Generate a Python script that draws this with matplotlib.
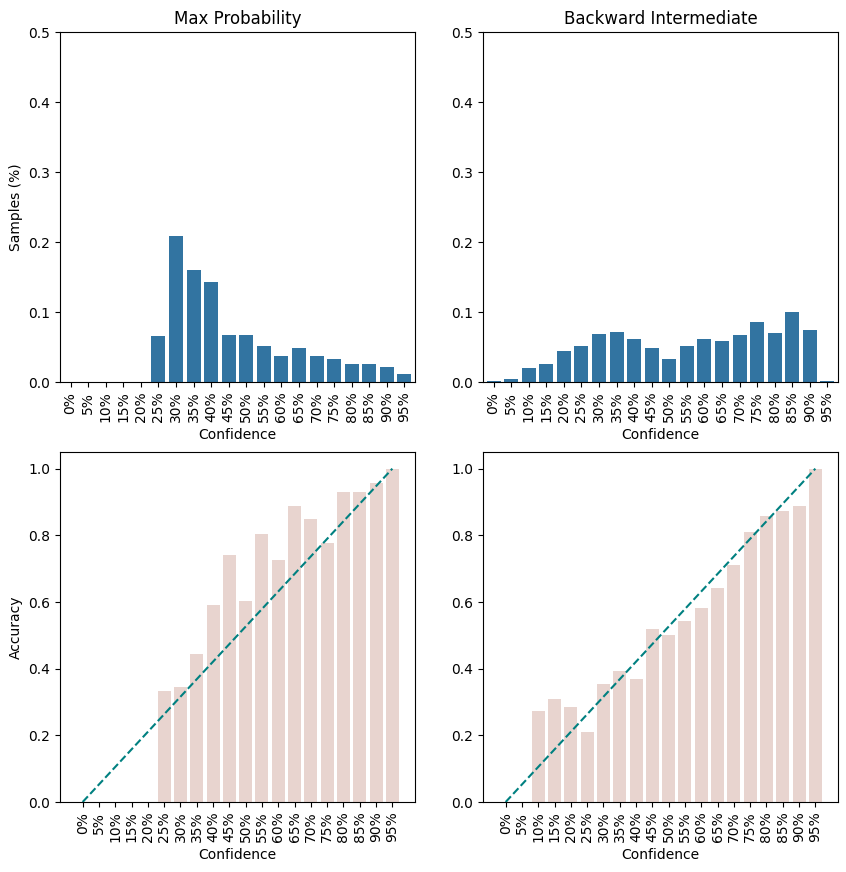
import numpy as np
import matplotlib
matplotlib.use("Agg")
import matplotlib.pyplot as plt

labels = [f"{p}%" for p in range(0, 100, 5)]

maxprob_samples = [0, 0, 0, 0, 0, 0.066, 0.209, 0.160, 0.143, 0.067, 0.067, 0.051,
                   0.037, 0.049, 0.037, 0.033, 0.026, 0.026, 0.021, 0.011]
backward_samples = [0.0014, 0.0043, 0.020, 0.026, 0.044, 0.051, 0.069, 0.071, 0.061,
                    0.049, 0.033, 0.051, 0.061, 0.059, 0.067, 0.086, 0.070, 0.100,
                    0.074, 0.0014]

maxprob_acc = [0, 0, 0, 0, 0, 0.333, 0.345, 0.444, 0.591, 0.741, 0.603, 0.805,
               0.727, 0.889, 0.850, 0.778, 0.931, 0.931, 0.958, 1.0]
backward_acc = [0, 0, 0.273, 0.309, 0.285, 0.209, 0.354, 0.393, 0.369, 0.519, 0.501,
                0.543, 0.582, 0.642, 0.711, 0.811, 0.859, 0.874, 0.889, 1.0]

titles = ["Max Probability", "Backward Intermediate"]
W, H = 846, 872
fig = plt.figure(figsize=(W / 100, H / 100), dpi=100)

def box(l, r, t, b):
    return [l / W, 1 - b / H, (r - l) / W, (b - t) / H]

x = np.arange(len(labels))
lefts = [(60, 415), (483, 838)]
samples = [maxprob_samples, backward_samples]
accs = [maxprob_acc, backward_acc]

for i in range(2):
    l, r = lefts[i]
    # calibration histogram
    ax = fig.add_axes(box(l, r, 32, 382))
    ax.bar(x, samples[i], width=0.8, color="#3274a1")
    ax.set_xlim(-0.6, 19.6)
    ax.set_ylim(0, 0.5)
    ax.set_xticks(x)
    ax.set_xticklabels(labels, rotation=90)
    ax.set_xlabel("Confidence")
    ax.set_title(titles[i])
    if i == 0:
        ax.set_ylabel("Samples (%)")

    # reliability diagram
    ax2 = fig.add_axes(box(l, r, 452, 802))
    ax2.bar(x, accs[i], width=0.8, color="#e8d4cf")
    ax2.plot([0, 19], [0, 1], "--", color="teal")
    ax2.set_ylim(bottom=0)
    ax2.set_xticks(x)
    ax2.set_xticklabels(labels, rotation=90)
    ax2.set_xlabel("Confidence")
    if i == 0:
        ax2.set_ylabel("Accuracy")

plt.savefig("out.png", dpi=100)
